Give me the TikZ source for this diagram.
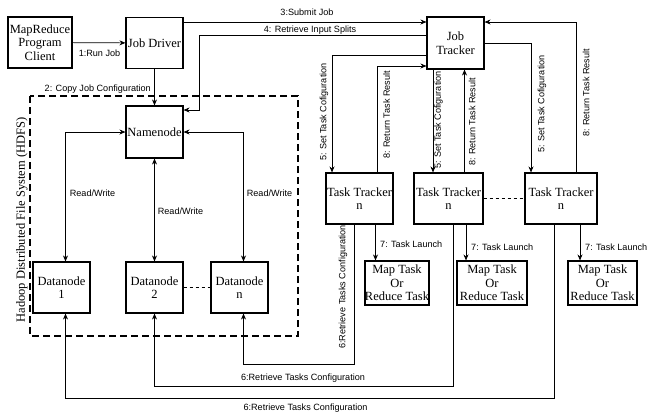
\documentclass[tikz,border=0pt]{standalone}
\usepackage{fontspec}
\setmainfont{Liberation Serif}
\setsansfont{Liberation Sans}
\usetikzlibrary{arrows.meta}

\begin{document}
\begin{tikzpicture}[x=1pt, y=-1pt,
  box/.style={draw, line width=1.1pt, align=center, inner sep=0pt,
    font=\fontsize{12.5}{13.5}\selectfont},
  lbl/.style={font=\sffamily\fontsize{9.1}{11}\selectfont, inner sep=1pt},
  flow/.style={line width=0.7pt, -{Stealth[length=6pt,width=5pt]}},
  both/.style={line width=0.7pt,
    {Stealth[length=6pt,width=5pt]}-{Stealth[length=6pt,width=5pt]}}]
  \useasboundingbox (0,0) rectangle (647,413);

  % client side
  \node (client) at ( 40.0, 42.5) [box, minimum width=64pt, minimum height=51pt] {MapReduce\\Program\\Client};
  \node (driver) at (154.5, 43.0) [box, minimum width=57pt, minimum height=51pt] {Job Driver};

  % HDFS
  \node (name) at (154.5,132.0) [box, minimum width=57pt, minimum height=52pt] {Namenode};
  \node (dn1)  at ( 61.5,287.5) [box, minimum width=57pt, minimum height=51pt] {Datanode\\1};
  \node (dn2)  at (154.5,287.5) [box, minimum width=57pt, minimum height=51pt] {Datanode\\2};
  \node (dnn)  at (239.5,287.5) [box, minimum width=57pt, minimum height=51pt] {Datanode\\n};
  \draw[line width=1.2pt, dash pattern=on 7pt off 4pt] (30,96) rectangle (298,336);
  \node (hdfs) at (22,220) [rotate=90, font=\fontsize{12.5}{13.5}\selectfont] {Hadoop Distributed File System (HDFS)};

  % MapReduce side
  \node (jt)  at (455.5, 43.0) [box, minimum width=57pt, minimum height=52pt] {Job\\Tracker};
  \node (tt1) at (359.5,198.5) [box, minimum width=67pt, minimum height=51pt] {Task Tracker\\n};
  \node (tt2) at (448.5,198.5) [box, minimum width=69pt, minimum height=51pt] {Task Tracker\\n};
  \node (tt3) at (561.0,198.5) [box, minimum width=72pt, minimum height=51pt] {Task Tracker\\n};
  \node (mt1) at (397.0,283.0) [box, minimum width=62pt, minimum height=44pt] {Map Task\\Or\\Reduce Task};
  \node (mt2) at (492.0,283.0) [box, minimum width=70pt, minimum height=44pt] {Map Task\\Or\\Reduce Task};
  \node (mt3) at (602.5,283.0) [box, minimum width=69pt, minimum height=44pt] {Map Task\\Or\\Reduce Task};

  % job submission
  \draw[flow] (client) -- (driver);
  \draw[flow] (driver) -- (name);
  \draw[flow] (driver.east |- 0,22) -- (jt.west |- 0,22);
  \draw[flow] (jt.west |- 0,35) -| (199,110) -- (name.east |- 0,110);
  \node (lrun)    at ( 99.5, 53) [lbl] {1:Run Job};
  \node (lcopy)   at (152, 89) [lbl, anchor=east] {2: Copy Job Configuration};
  \node (lsubmit) at (307, 12) [lbl] {3:Submit Job};
  \node (lsplits) at (310, 30) [lbl] {4: Retrieve Input Splits};

  % read / write
  \draw[both] ([xshift=4pt]dn1.north) |- (name.west);
  \draw[both] (dn2) -- (name);
  \draw[both] ([xshift=4pt]dnn.north) |- (name.east);
  \draw[line width=0.7pt, dashed] (dn2) -- (dnn);
  \node (lrw1) at ( 92.5,193) [lbl] {Read/Write};
  \node (lrw2) at (180.5,211) [lbl] {Read/Write};
  \node (lrw3) at (269.5,193) [lbl] {Read/Write};

  % task configuration and results
  \draw[flow] (jt.west |- 0,55) -| ([xshift=-27.5pt]tt1.north);
  \draw[flow] ([xshift=17.5pt]tt1.north) |- (jt.west |- 0,66);
  \draw[flow] ([xshift=-22.5pt]jt.south) -- ([xshift=-15.5pt]tt2.north);
  \draw[flow] ([xshift=16pt]tt2.north) -- ([xshift=9pt]jt.south);
  \draw[flow] (jt.east |- 0,43) -| ([xshift=-30pt]tt3.north);
  \draw[flow] ([xshift=15pt]tt3.north) |- (jt.east |- 0,22);
  \draw[line width=0.7pt, dashed] (tt2) -- (tt3);
  \node (lset1) at (324.0,112) [lbl, rotate=90] {5: Set Task Cofiguration};
  \node (lret1) at (386.5,115) [lbl, rotate=90] {8: Return Task Result};
  \node (lset2) at (438.5,120) [lbl, rotate=90] {5: Set Task Cofiguration};
  \node (lret2) at (472.0,122) [lbl, rotate=90] {8: Return Task Result};
  \node (lset3) at (542.0,104) [lbl, rotate=90] {5: Set Task Cofiguration};
  \node (lret3) at (586.0, 93) [lbl, rotate=90] {8: Return Task Result};

  % task launch
  \draw[flow] ([xshift=16pt]tt1.south) -- ([xshift=16pt]tt1.south |- mt1.north);
  \draw[flow] ([xshift=17.5pt]tt2.south) -- ([xshift=17.5pt]tt2.south |- mt2.north);
  \draw[flow] ([xshift=19pt]tt3.south) -- ([xshift=19pt]tt3.south |- mt3.north);
  \node (llaunch1) at (379,244) [lbl, anchor=west] {7: Task Launch};
  \node (llaunch2) at (470,247) [lbl, anchor=west] {7: Task Launch};
  \node (llaunch3) at (584,247) [lbl, anchor=west] {7: Task Launch};

  % retrieve configuration from datanodes
  \draw[flow] ([xshift=-5.5pt]tt1.south) |- ([xshift=4pt]dnn.south |- 0,364) -- ([xshift=4pt]dnn.south);
  \draw[flow] ([xshift=4.5pt]tt2.south) |- (dn2.south |- 0,386) -- (dn2.south);
  \draw[flow] ([xshift=-7pt]tt3.south) |- ([xshift=4pt]dn1.south |- 0,398) -- ([xshift=4pt]dn1.south);
  \node (lget1) at (343.0,287) [lbl, rotate=90] {6:Retrieve Tasks Configuration};
  \node (lget2) at (303.0,378) [lbl] {6:Retrieve Tasks Configuration};
  \node (lget3) at (305.5,408) [lbl] {6:Retrieve Tasks Configuration};
\end{tikzpicture}
\end{document}
